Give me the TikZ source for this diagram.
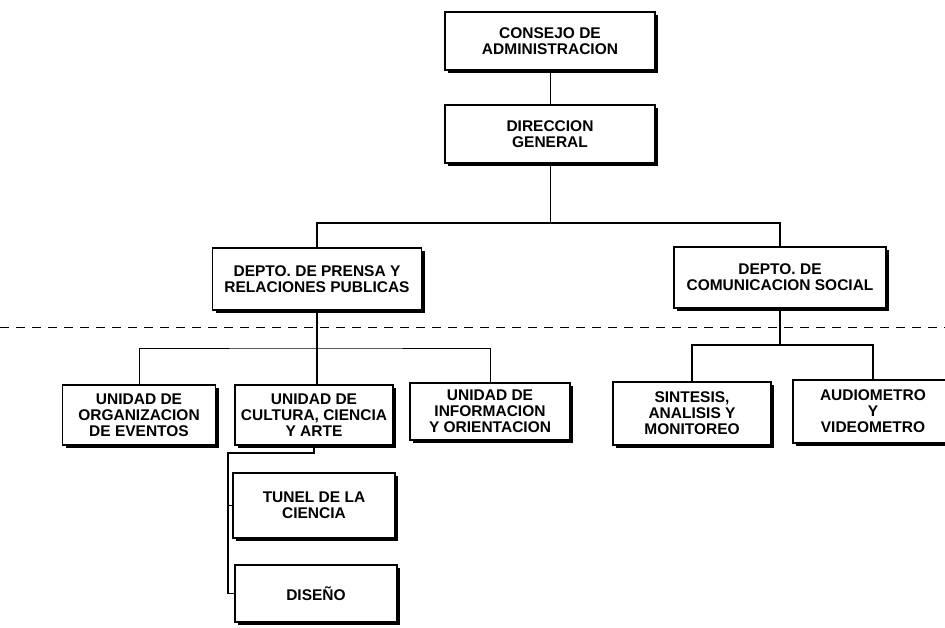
\documentclass[tikz,border=0pt]{standalone}
\usepackage{fontspec}
\setmainfont{Liberation Sans}
\usetikzlibrary{shadows}
\begin{document}
\begin{tikzpicture}[x=1pt,y=-1pt,
  unit/.style={draw=black, line width=1.7pt, fill=white, inner sep=1pt,
    align=center, font=\bfseries\fontsize{15.5}{16}\selectfont,
    drop shadow={shadow xshift=3pt, shadow yshift=-3pt, opacity=1, fill=black}},
  thinlink/.style={draw=black, line width=0.8pt},
  thicklink/.style={draw=black, line width=1.9pt},
  sublink/.style={draw=black, line width=1.4pt},
  divider/.style={draw=black, line width=1pt, dash pattern=on 9pt off 7pt}]
\useasboundingbox (0,0) rectangle (945,627);
\clip (0,0) rectangle (945,627);

% governing bodies
\node[unit, minimum width=210pt, minimum height=58pt] (consejo) at (550,41)
  {CONSEJO DE\\ADMINISTRACION};
\node[unit, minimum width=210pt, minimum height=58pt] (direccion) at (550,134)
  {DIRECCION\\GENERAL};

% departments
\node[unit, minimum width=209pt, minimum height=62pt] (prensa) at (317,279)
  {DEPTO. DE PRENSA Y\\RELACIONES PUBLICAS};
\node[unit, minimum width=212pt, minimum height=61pt] (comunic) at (780,277.5)
  {DEPTO. DE\\COMUNICACION SOCIAL};

% units under the press department
\node[unit, minimum width=153pt, minimum height=60pt] (org) at (139,415)
  {UNIDAD DE\\ORGANIZACION\\DE EVENTOS};
\node[unit, minimum width=158pt, minimum height=60pt] (cultura) at (314,415)
  {UNIDAD DE\\CULTURA, CIENCIA\\Y ARTE};
\node[unit, minimum width=160pt, minimum height=57pt] (info) at (490,411.5)
  {UNIDAD DE\\INFORMACION\\Y ORIENTACION};

% units under the social communication department
\node[unit, minimum width=158pt, minimum height=63pt] (sintesis) at (692,413.5)
  {SINTESIS,\\ANALISIS Y\\MONITOREO};
\node[unit, minimum width=160pt, minimum height=63pt] (audio) at (873,411.5)
  {AUDIOMETRO\\Y\\VIDEOMETRO};

% sections of the culture unit
\node[unit, minimum width=162pt, minimum height=65pt] (tunel) at (314,505.5)
  {TUNEL DE LA\\CIENCIA};
\node[unit, minimum width=162pt, minimum height=57pt] (diseno) at (316,593.5)
  {DISEÑO};

% junction points
\coordinate (jd) at (550,223);
\coordinate (ju) at (317,348);
\coordinate (jc) at (780,345);
\coordinate (kc) at (228,453);
\coordinate (dl) at (0,327);
\coordinate (dr) at (945,327);

% dashed divider between levels
\draw[divider] (dl) -- (dr);

% connectors
\draw[thinlink] (consejo.south) -- (direccion.north);
\draw[thinlink] (direccion.south) -- (jd);
\draw[thicklink] (prensa.north) |- (jd) -| (comunic.north);

\draw[thicklink] (prensa.south) -- (prensa.south |- cultura.north);
\draw[thinlink] (org.north) |- (ju) -| (info.north);

\draw[thicklink] (comunic.south) -- (jc);
\draw[thicklink] (sintesis.north) |- (jc) -| (audio.north);

\draw[sublink] (cultura.south) |- (kc) -- (kc |- diseno.west) -- (diseno.west);
\draw[sublink] (kc |- tunel.west) -- (tunel.west);
\end{tikzpicture}
\end{document}
